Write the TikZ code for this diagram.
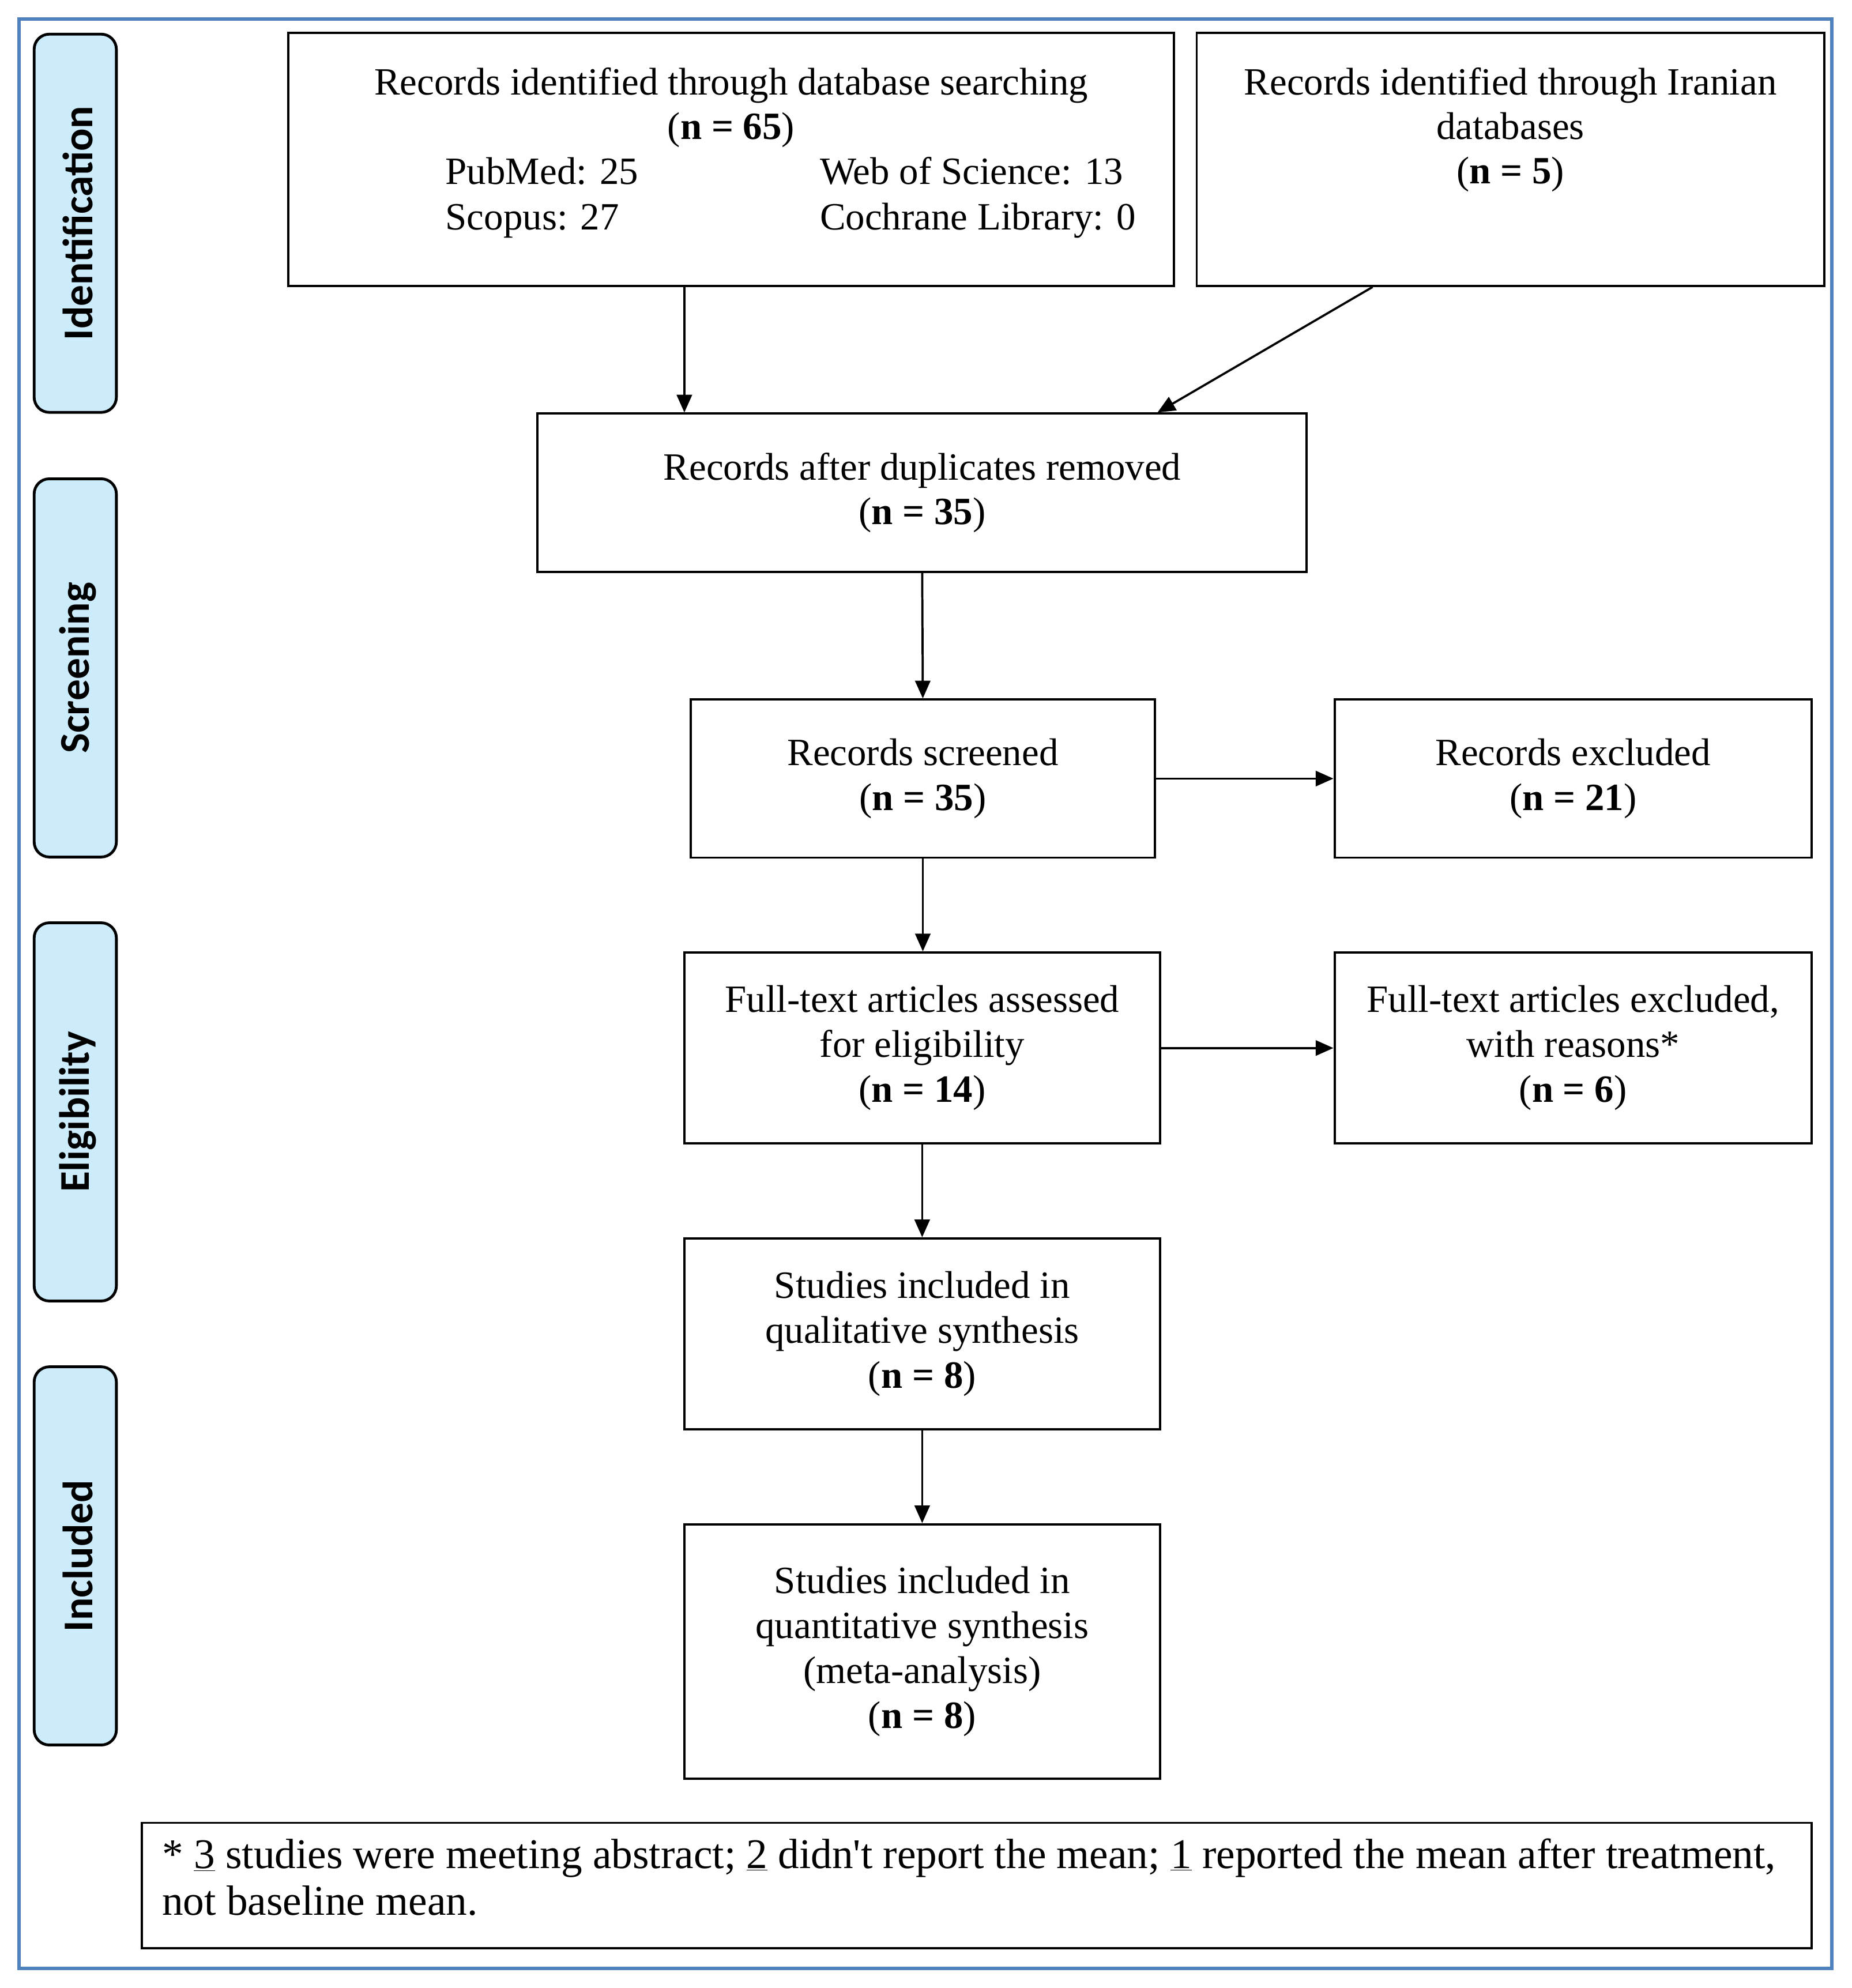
\documentclass[tikz,border=0pt]{standalone}
\usepackage{fontspec}
\setmainfont{Liberation Serif}
\newfontfamily\labelfont{Carlito}
\usetikzlibrary{arrows.meta}
\definecolor{pillblue}{RGB}{204,236,252}
\definecolor{frameblue}{RGB}{79,129,189}
\newcommand\mainsize{\fontsize{30.5pt}{35.5pt}\selectfont}
\newcommand\nn[1]{(\textbf{n = #1})}
\begin{document}
\begin{tikzpicture}[x=1pt,y=-1pt,
  box/.style={draw=black, line width=1.8pt, inner sep=0pt, align=center, font=\mainsize},
  txt/.style={inner sep=0pt, font=\mainsize},
  pill/.style={draw=black, line width=2.2pt, fill=pillblue, rounded corners=12pt, minimum width=65pt, minimum height=299pt},
  lab/.style={inner sep=0pt, font=\labelfont\bfseries\fontsize{33.5pt}{38pt}\selectfont, rotate=90},
  arr/.style={line width=1.7pt, -{Triangle[length=14pt,width=12pt]}}]
\useasboundingbox (0,0) rectangle (1464,1571.6);
\draw[frameblue, line width=3pt] (15,15) rectangle (1448,1556);
% stage pills
\node[pill] (pid) at (59.5,176.5) {};
\node[lab] (pidt) at ([xshift=2pt]pid.center) {Identification};
\node[pill] (psc) at (59.5,528) {};
\node[lab] (psct) at ([xshift=2pt]psc.center) {Screening};
\node[pill] (pel) at (59.5,879) {};
\node[lab] (pelt) at ([xshift=2pt]pel.center) {Eligibility};
\node[pill] (pin) at (59.5,1230) {};
\node[lab] (pint) at ([xshift=2pt]pin.center) {Included};
% box 1
\node[box, minimum width=700pt, minimum height=200pt] (db) at (578,126) {};
\node[txt, anchor=base] (dbt1) at (578,75) {Records identified through database searching};
\node[txt, anchor=base] (dbt2) at (578,110) {\nn{65}};
\node[txt, anchor=base west] (dbt3) at (352,145.5) {PubMed: 25};
\node[txt, anchor=base west] (dbt4) at (648,145.5) {Web of Science: 13};
\node[txt, anchor=base west] (dbt5) at (352,181.5) {Scopus: 27};
\node[txt, anchor=base west] (dbt6) at (648,181.5) {Cochrane Library: 0};
% box 2
\node[box, minimum width=496pt, minimum height=200pt] (ir) at (1194,126) {};
\node[txt, anchor=base] (irt1) at (1194,75) {Records identified through Iranian};
\node[txt, anchor=base] (irt2) at (1194,110) {databases};
\node[txt, anchor=base] (irt3) at (1194,145) {\nn{5}};
% flow boxes
\node[box, minimum width=608pt, minimum height=125pt] (dup) at (729,389.5) {Records after duplicates removed\\\nn{35}};
\node[box, minimum width=367pt, minimum height=125pt] (scr) at (729.5,615.5) {Records screened\\\nn{35}};
\node[box, minimum width=377pt, minimum height=125pt] (exc) at (1243.5,615.5) {Records excluded\\\nn{21}};
\node[box, minimum width=376pt, minimum height=151pt] (ft) at (729,828.5) {Full-text articles assessed\\for eligibility\\\nn{14}};
\node[box, minimum width=377pt, minimum height=151pt] (fte) at (1243.5,828.5) {Full-text articles excluded,\\with reasons*\\\nn{6}};
\node[box, minimum width=376pt, minimum height=151pt] (qual) at (729,1054.5) {Studies included in\\qualitative synthesis\\\nn{8}};
\node[box, minimum width=376pt, minimum height=201pt] (quant) at (729,1305.5) {Studies included in\\quantitative synthesis\\(meta-analysis)\\\nn{8}};
% footnote
\node[box, minimum width=1320pt, minimum height=99pt] (fn) at (772,1490.5) {};
\node[txt, anchor=base west, align=left, font=\fontsize{33.4pt}{37pt}\selectfont] (fnt) at (128,1514) {* \underline{3} studies were meeting abstract; \underline{2} didn\textquotesingle t report the mean; \underline{1} reported the mean after treatment,\\not baseline mean.};
% connectors
\coordinate (c1) at (541,0);
\coordinate (c2) at (1085,0);
\coordinate (c3) at (915,0);
\draw[arr] (db.south -| c1) -- (dup.north -| c1);
\draw[arr] (ir.south -| c2) -- (dup.north -| c3);
\draw[arr] (dup.south) -- (scr.north);
\draw[arr] (scr.east) -- (exc.west);
\draw[arr] (scr.south) -- (scr.south |- ft.north);
\draw[arr] (ft.east) -- (fte.west);
\draw[arr] (ft.south) -- (qual.north);
\draw[arr] (qual.south) -- (quant.north);
\end{tikzpicture}
\end{document}
